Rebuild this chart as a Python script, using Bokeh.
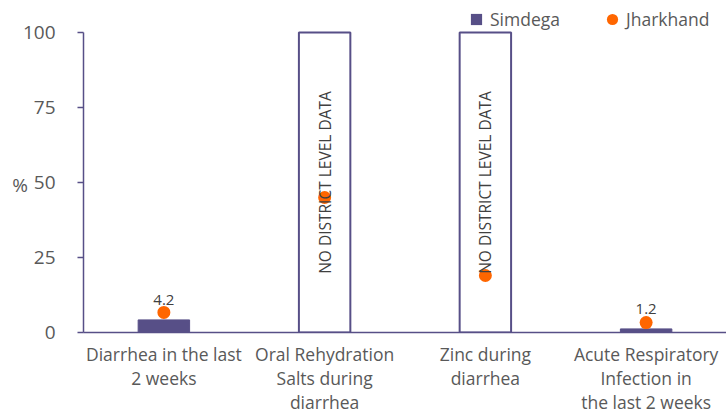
import math
from bokeh.plotting import figure
from bokeh.models import ColumnDataSource, FactorRange, Range1d, FixedTicker, Legend, LegendItem
from bokeh.core.properties import value
from bokeh.embed import file_html
from bokeh.resources import INLINE

# ---- data ----
categories = [
    "Diarrhea in the last\n2 weeks",
    "Oral Rehydration\nSalts during\ndiarrhea",
    "Zinc during\ndiarrhea",
    "Acute Respiratory\nInfection in\nthe last 2 weeks",
]
simdega = [4.2, None, None, 1.2]
jharkhand = [6.7, 45.0, 19.0, 3.3]
no_data = [False, True, True, False]
no_data_bar_value = 100
no_data_text = "NO DISTRICT LEVEL DATA"
y_ticks = [0, 25, 50, 75, 100]
series_names = ["Simdega", "Jharkhand"]
y_label = "%"

# ---- styles ----
PURPLE = "#574f87"
ORANGE = "#ff6600"
GRAY = "#595959"
DARK = "#404040"
FONT = "Open Sans"

p = figure(
    width=726, height=416,
    x_range=FactorRange(factors=categories, range_padding=0),
    y_range=Range1d(0, 109.0),
    output_backend="svg", toolbar_location=None,
    min_border_left=83, min_border_right=0, min_border_top=5, min_border_bottom=84,
)
p.outline_line_color = None
p.xgrid.grid_line_color = None
p.ygrid.grid_line_color = None
p.background_fill_color = "white"
p.border_fill_color = "white"

bar_x = [c for c, s in zip(categories, simdega) if s is not None]
bar_top = [s for s in simdega if s is not None]
bar_src = ColumnDataSource(dict(x=bar_x, top=bar_top, label=[f"{v}" for v in bar_top]))
nd_x = [c for c, f in zip(categories, no_data) if f]
nd_src = ColumnDataSource(dict(x=nd_x, top=[no_data_bar_value] * len(nd_x),
                               mid=[no_data_bar_value / 2] * len(nd_x),
                               label=[no_data_text] * len(nd_x)))

p.vbar(x="x", top="top", width=0.32, source=bar_src, fill_color=PURPLE, line_color=PURPLE, line_width=1)
p.vbar(x="x", top="top", width=0.32, source=nd_src, fill_color="white", line_color=PURPLE, line_width=2)
dots = p.scatter(x=categories, y=jharkhand, size=13, fill_color=ORANGE, line_color=None)

p.text(x="x", y="top", text="label", source=bar_src, y_offset=-20,
       text_align="center", text_baseline="middle",
       text_font=value(FONT), text_font_size="15px", text_color=DARK)
p.text(x="x", y="mid", text="label", source=nd_src, angle=math.pi / 2,
       text_align="center", text_baseline="middle",
       text_font=value(FONT), text_font_size="15.5px", text_color=DARK)

# legend (square marker with an undrawn NaN point stands for the bar series)
sq = p.scatter(x=[categories[0]], y=[float("nan")], marker="square",
               fill_color=PURPLE, line_color=None)
legend = Legend(items=[LegendItem(label=series_names[0], renderers=[sq]),
                       LegendItem(label=series_names[1], renderers=[dots])],
                location="top_right", orientation="horizontal",
                glyph_width=28, glyph_height=28, label_height=28, label_width=100,
                label_standoff=0, spacing=8, padding=0, margin=0,
                border_line_color=None, background_fill_alpha=0,
                label_text_font=FONT, label_text_font_size="17.5px", label_text_color=GRAY)
p.add_layout(legend)

# axes
xa = p.xaxis[0]
xa.axis_line_color = PURPLE
xa.axis_line_width = 1.5
xa.major_tick_line_color = None
xa.minor_tick_line_color = None
xa.major_label_text_font = FONT
xa.major_label_text_font_size = "17.5px"
xa.major_label_text_color = GRAY
xa.major_label_standoff = 3
xa.major_label_text_line_height = 1.0

ya = p.yaxis[0]
ya.ticker = FixedTicker(ticks=y_ticks)
ya.bounds = (0, 100)
ya.axis_line_color = PURPLE
ya.axis_line_width = 1.5
ya.major_tick_line_color = PURPLE
ya.major_tick_line_width = 1.5
ya.major_tick_in = 0
ya.major_tick_out = 6
ya.minor_tick_line_color = None
ya.major_label_text_font = FONT
ya.major_label_text_font_size = "19px"
ya.major_label_text_color = GRAY
ya.major_label_standoff = 22
ya.axis_label = "\n" + y_label
ya.axis_label_orientation = "horizontal"
ya.axis_label_standoff = -8
ya.axis_label_text_font = FONT
ya.axis_label_text_font_size = "19px"
ya.axis_label_text_font_style = "normal"
ya.axis_label_text_color = GRAY

open("out.html", "w").write(file_html(p, INLINE))
